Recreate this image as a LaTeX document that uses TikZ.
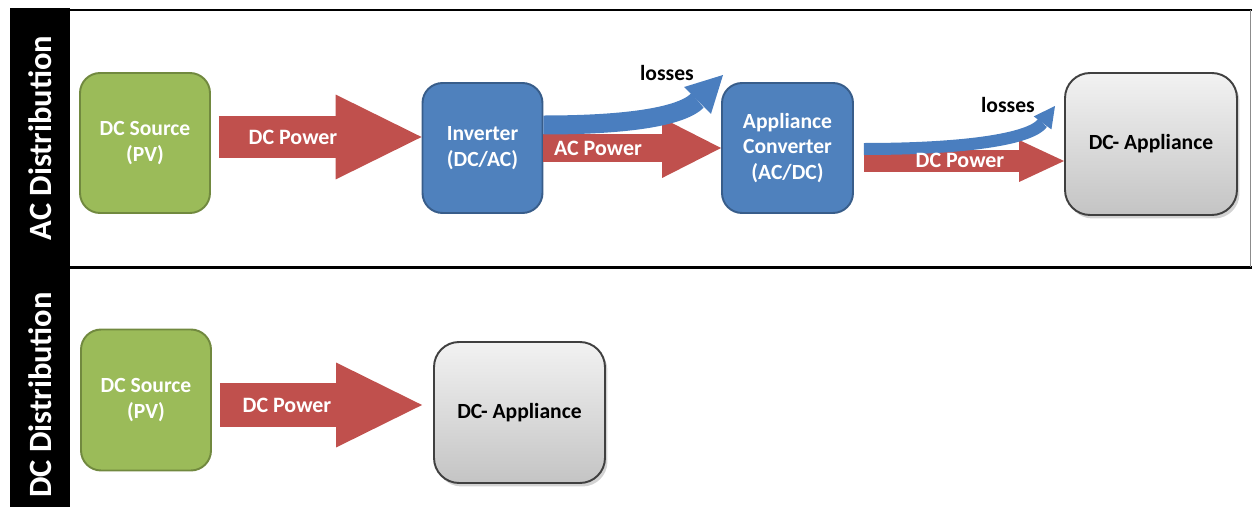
\documentclass[tikz,border=0pt]{standalone}
\usepackage{fontspec}
\setmainfont{Carlito}
\usetikzlibrary{arrows.meta,calc,shadows}

\definecolor{pvgreen}{HTML}{9BBB59}
\definecolor{pvgreenline}{HTML}{71893F}
\definecolor{convblue}{HTML}{4F81BD}
\definecolor{convblueline}{HTML}{385D8A}
\definecolor{powerred}{HTML}{C0504D}
\definecolor{lossblue}{HTML}{4A7EBF}
\definecolor{applitop}{HTML}{F2F2F2}
\definecolor{applibot}{HTML}{C4C4C4}

\tikzset{
  box/.style={rounded corners=0.4cm, line width=1.1pt, align=center, inner sep=0pt,
    font=\fontsize{12.3}{14.5}\selectfont\bfseries},
  source/.style={box, fill=pvgreen, draw=pvgreenline, text=white,
    minimum width=2.6cm, minimum height=2.8cm},
  conv/.style={box, fill=convblue, draw=convblueline, text=white,
    minimum width=2.4cm, minimum height=2.6cm},
  appli/.style={box, top color=applitop, bottom color=applibot, draw=black!75,
    rounded corners=0.5cm, minimum width=3.44cm, minimum height=2.84cm,
    drop shadow={shadow xshift=0.05cm, shadow yshift=-0.07cm, opacity=0.35}},
  power/.style n args={3}{draw=powerred, line width=#1,
    -{Triangle[length=#2, width=#3, line width=0pt]}},
  loss/.style n args={3}{draw=lossblue, line width=#1,
    -{Triangle[length=#2, width=#3, line width=0pt]}},
  flowtext/.style={text=white, font=\fontsize{12.5}{14}\selectfont\bfseries},
  losstext/.style={font=\fontsize{12.3}{14}\selectfont\bfseries},
  sidetitle/.style={text=white, rotate=90, font=\fontsize{18.5}{20}\selectfont\bfseries}
}

\begin{document}
\begin{tikzpicture}[x=0.02cm, y=-0.02cm]
  \useasboundingbox (0,0) rectangle (1252,507);

  % side bar and frame
  \fill (10,8) rectangle (70,507);
  \draw [line width=0.06cm] (70,10) -- (1252,10);
  \draw [line width=0.06cm] (70,267) -- (1252,267);
  \draw [black!45, line width=0.02cm] (1250,10) -- (1250,267);
  \node [sidetitle] (acdist) at (40,138) {AC Distribution};
  \node [sidetitle] (dcdist) at (40,395) {DC Distribution};

  % AC distribution
  \node [source] (srcA) at (145,143) {DC Source\\(PV)};
  \node [conv] (invA) at (482.5,148) {Inverter\\(DC/AC)};
  \node [conv, minimum width=2.62cm] (convA) at (787.5,148) {Appliance\\Converter\\(AC/DC)};
  \node [appli] (appA) at (1151,144) {DC- Appliance};
  \coordinate (lossA) at (723,75);
  \coordinate (lossB) at (1055,106);

  \draw [power={0.86cm}{1.72cm}{1.7cm}] ($(srcA.east)+(8,-6)$) -- ($(invA.west)+(0,-11)$);
  \draw [power={0.56cm}{1.18cm}{1.2cm}] (invA.east) -- (convA.west);
  \draw [power={0.44cm}{0.9cm}{0.84cm}] ($(convA.east)+(10,13)$) -- ($(appA.west)+(0,17)$);

  \draw [loss={0.38cm}{0.72cm}{0.76cm}] ($(invA.east)+(0,-23)$)
    .. controls (620,125) and (680,118) .. (lossA);
  \draw [loss={0.24cm}{0.42cm}{0.44cm}] ($(convA.east)+(10,1)$)
    .. controls (960,149) and (1030,140) .. (lossB);

  \node [flowtext] (dcAlbl) at (293,137) {DC Power};
  \node [flowtext] (acAlbl) at (598,148) {AC Power};
  \node [flowtext] (dcBlbl) at (960,160) {DC Power};
  \node [losstext] (lossAlbl) at (667,73) {losses};
  \node [losstext] (lossBlbl) at (1008,105) {losses};

  % DC distribution
  \node [source, minimum height=2.82cm] (srcB) at (146,400) {DC Source\\(PV)};
  \node [appli, minimum width=3.42cm, minimum height=2.82cm] (appB) at (519.5,412.5) {DC- Appliance};

  \draw [power={0.88cm}{1.72cm}{1.7cm}] ($(srcB.east)+(8,5)$) -- ($(appB.west)+(-11,-7.5)$);
  \node [flowtext] (dcClbl) at (287,405) {DC Power};
\end{tikzpicture}
\end{document}
